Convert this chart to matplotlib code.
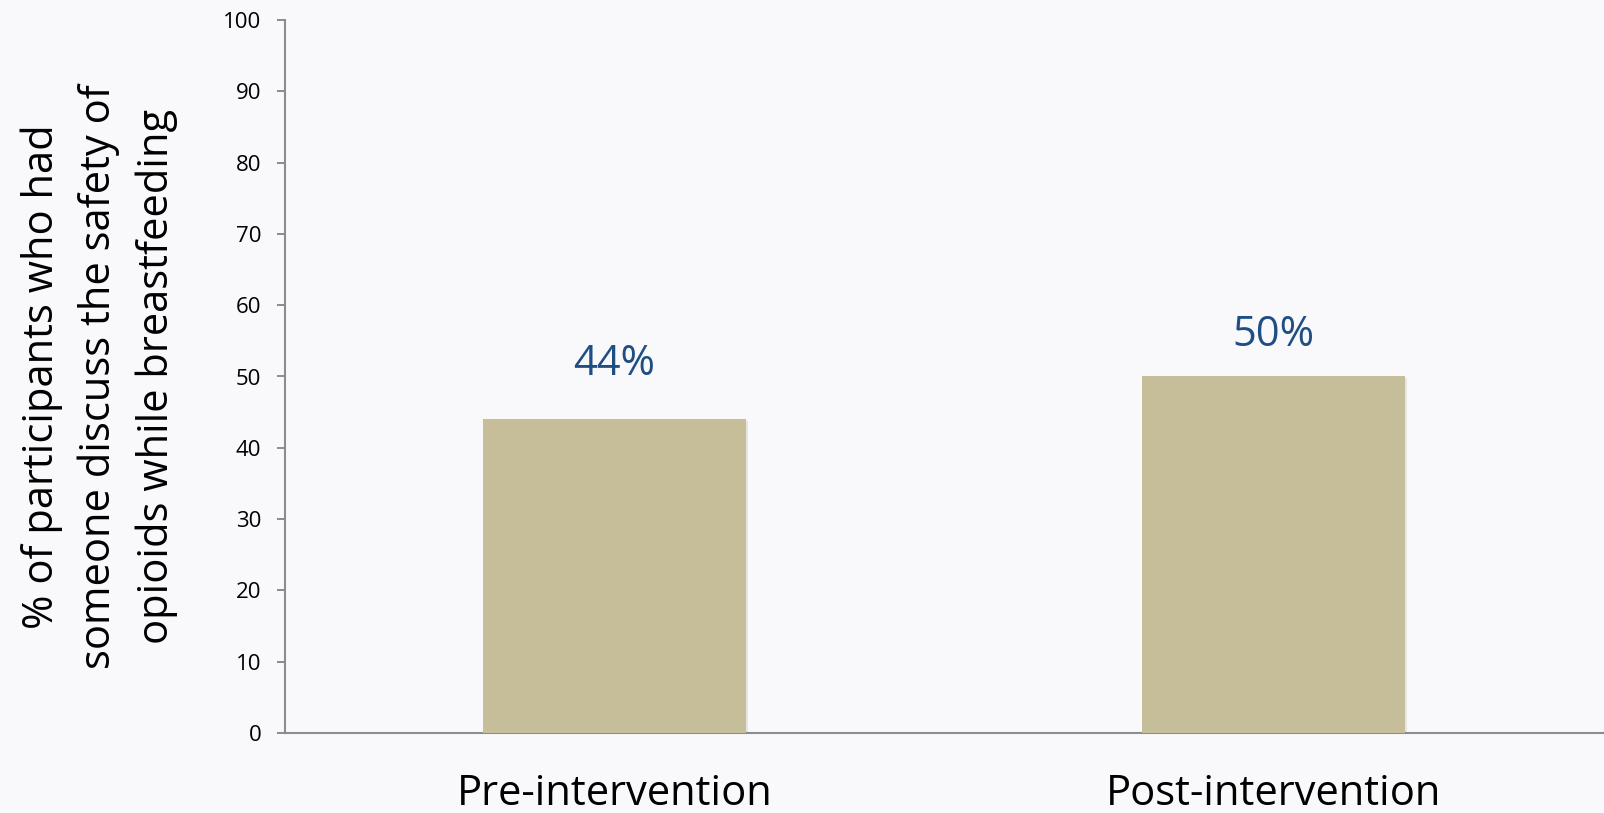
import matplotlib
matplotlib.use("Agg")
import matplotlib.pyplot as plt
import matplotlib.patheffects as pe

categories = ["Pre-intervention", "Post-intervention"]
values = [44, 50]
value_labels = ["44%", "50%"]
y_ticks = [0, 10, 20, 30, 40, 50, 60, 70, 80, 90, 100]
y_label = "% of participants who had\nsomeone discuss the safety of\nopioids while breastfeeding"

plt.rcParams["font.family"] = ["Open Sans", "DejaVu Sans"]

bg = "#F9F9FC"
bar_color = "#C5BE98"
label_color = "#1F4E85"
spine_color = "#8C8C8C"

# vertical gap (points) between each bar top and its value label
label_offsets = [40, 30]

fig = plt.figure(figsize=(16.04, 8.13), dpi=100, facecolor=bg)
ax = fig.add_axes([285 / 1604, 1 - 733 / 813, 1318 / 1604, 713 / 813])
ax.set_facecolor(bg)

x = list(range(len(categories)))
bars = ax.bar(x, values, width=0.4, color=bar_color, zorder=3)
for b in bars:
    b.set_path_effects([pe.SimplePatchShadow(offset=(1.5, -1), alpha=0.12, shadow_rgbFace="#555555"),
                        pe.Normal()])

for xi, v, lab, off in zip(x, values, value_labels, label_offsets):
    ax.annotate(lab, (xi, v), xytext=(0, off), textcoords="offset points",
                ha="center", va="center", fontsize=30, color=label_color)

ax.set_xlim(-0.5, 1.5)
ax.set_ylim(0, 100)
ax.set_yticks(y_ticks)
ax.set_xticks(x)
ax.set_xticklabels(categories, fontsize=30)
ax.tick_params(axis="x", length=0, pad=29)
ax.tick_params(axis="y", length=6, width=1.4, color=spine_color, labelsize=16, pad=11)

for side in ("top", "right"):
    ax.spines[side].set_visible(False)
for side in ("left", "bottom"):
    ax.spines[side].set_color(spine_color)
    ax.spines[side].set_linewidth(1.5)

ax.set_ylabel(y_label, fontsize=30, linespacing=1.45, ha="center", va="center")
ax.yaxis.set_label_coords(-0.141, 0.5)

fig.savefig("out.png", dpi=100, facecolor=bg)
